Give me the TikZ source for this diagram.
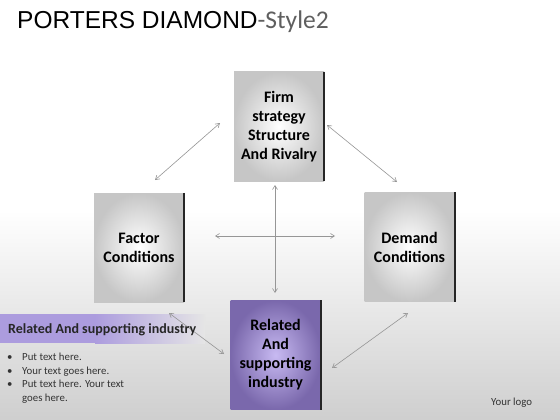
\documentclass[tikz,border=0pt]{standalone}
\usepackage{fontspec}
\setmainfont{Carlito}
\newfontfamily\arialf{Liberation Sans}
\usetikzlibrary{arrows.meta}
\definecolor{boxedge}{RGB}{198,198,198}
\definecolor{purin}{RGB}{200,186,242}
\definecolor{purout}{RGB}{122,104,172}
\definecolor{bandpur}{RGB}{172,156,222}
\definecolor{arrowgray}{RGB}{150,150,150}
\definecolor{titlegray}{RGB}{95,95,95}
\tikzset{
  greybox/.style={rectangle, minimum width=90pt, minimum height=109pt, inner color=white, outer color=boxedge, align=center, font=\fontsize{16}{19}\selectfont\bfseries, text=black},
  purbox/.style={greybox, inner color=purin, outer color=purout},
  edge/.style={line width=2pt, black!85},
  link/.style={draw=arrowgray, line width=0.6pt, {Straight Barb[length=4pt,width=5pt]}-{Straight Barb[length=4pt,width=5pt]}},
  bullettext/.style={anchor=base west, inner sep=0pt, font=\fontsize{10.8}{13}\selectfont, text=black!80},
}
\begin{document}
\begin{tikzpicture}[x=1pt,y=-1pt]
\useasboundingbox (0,0) rectangle (560,420);
\shade[top color=white, bottom color=black!19, middle color=white] (0,0) rectangle (560,420);
% left panel band
\fill[bandpur] (0,314) rectangle (95,343);
\shade[left color=bandpur, right color=black!10] (95,314) rectangle (205,343);
% title
\node[anchor=base west, inner sep=0pt] (title) at (17,29) {\arialf\fontsize{24.5}{27}\selectfont PORTERS DIAMOND\textcolor{titlegray}{\fontsize{25.5}{27}\selectfont\rmfamily-Style2}};
% boxes
\node[greybox] (firm) at (279,126.5) {Firm\\strategy\\Structure\\And Rivalry};
\node[greybox] (factor) at (139,247.5) {Factor\\Conditions};
\node[greybox] (demand) at (409.5,247) {Demand\\Conditions};
\node[purbox] (related) at (275.5,355) {Related\\And\\supporting\\industry};
\foreach \n in {firm,factor,demand,related}{
  \draw[edge] (\n.north east) -- (\n.south east);
}
% connector ends
\coordinate (a1) at (155,180); \coordinate (a2) at (220,123);
\coordinate (b1) at (327,125); \coordinate (b2) at (397,182);
\coordinate (h1) at (215,236); \coordinate (h2) at (335,236);
\coordinate (v1) at (275,185); \coordinate (v2) at (275,293);
\coordinate (c1) at (169,313); \coordinate (c2) at (224,354);
\coordinate (d1) at (332,368); \coordinate (d2) at (408,313);
\draw[link] (a1) -- (a2);
\draw[link] (b1) -- (b2);
\draw[link] (h1) -- (h2);
\draw[link] (v1) -- (v2);
\draw[link] (c1) -- (c2);
\draw[link] (d1) -- (d2);
% left panel text
\node[anchor=base west, inner sep=0pt, font=\fontsize{14}{16}\selectfont\bfseries, text=black!85] (head) at (8,333.5) {Related And supporting industry};
\node[bullettext] (b1t) at (7,360.5) {•};
\node[bullettext] (l1) at (22,360.5) {Put text here.};
\node[bullettext] (b2t) at (7,374.5) {•};
\node[bullettext] (l2) at (22,374.5) {Your text goes here.};
\node[bullettext] (b3t) at (7,387.5) {•};
\node[bullettext] (l3) at (22,387.5) {Put text here. Your text};
\node[bullettext] (l4) at (22,401) {goes here.};
\node[bullettext] (logo) at (491,405.5) {Your logo};
\end{tikzpicture}
\end{document}
